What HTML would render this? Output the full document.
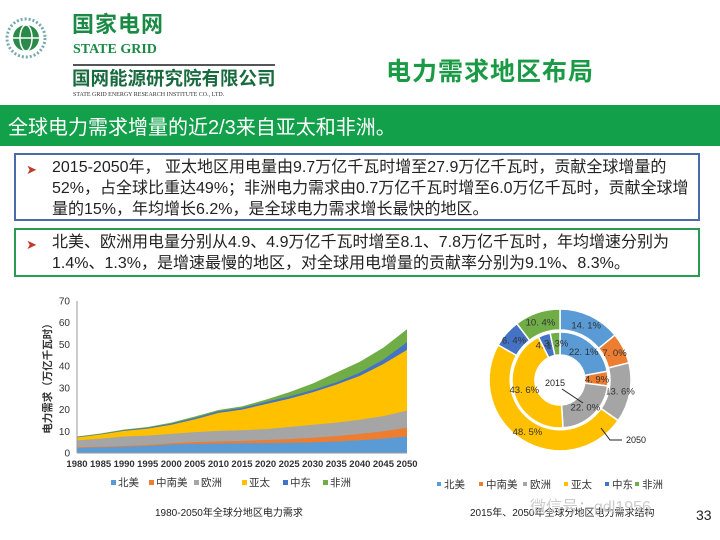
<!DOCTYPE html>
<html><head><meta charset="utf-8"><style>
body{margin:0;width:720px;height:540px;background:#fff;position:relative;overflow:hidden;font-family:"Liberation Sans","Noto Sans CJK SC",sans-serif;}
.a{position:absolute;white-space:nowrap}
.box{position:absolute;left:14px;width:686px;background:#fff;font-size:16px;line-height:21px;color:#222;box-sizing:border-box;padding:2px 4px 2px 36px;white-space:nowrap;overflow:hidden}
.box .arr{position:absolute;left:10px;top:4px;color:#c0392b;font-size:13px}
</style></head><body>
<!-- logo -->
<svg class="a" style="left:4px;top:14px" width="50" height="50"><circle cx="22" cy="24" r="19" fill="none" stroke="#7aa" stroke-width="3" stroke-dasharray="2 2"/><circle cx="22" cy="24" r="13" fill="#2a8a4a"/><ellipse cx="22" cy="24" rx="6" ry="13" fill="none" stroke="#fff" stroke-width="1.5"/><line x1="9" y1="24" x2="35" y2="24" stroke="#fff" stroke-width="1.5"/></svg>
<div class="a" style="left:72px;top:12px;font-size:22px;line-height:26px;font-weight:bold;color:#1a8a45;letter-spacing:1px">国家电网</div>
<div class="a" style="left:73px;top:42px;font-size:14px;line-height:16px;font-weight:bold;color:#1a8a45;font-family:'Liberation Serif',serif">STATE GRID</div>
<div class="a" style="left:73px;top:64px;width:202px;height:2px;background:#555"></div>
<div class="a" style="left:72px;top:68px;font-size:18.5px;line-height:22px;font-weight:bold;color:#1a6a40">国网能源研究院有限公司</div>
<div class="a" style="left:73px;top:92px;font-size:6px;color:#333;font-family:'Liberation Serif',serif">STATE GRID ENERGY RESEARCH INSTITUTE CO., LTD.</div>
<div class="a" style="left:386px;top:52px;font-size:25px;font-weight:bold;color:#1a9a45;letter-spacing:1px">电力需求地区布局</div>
<div class="a" style="left:0;top:105px;width:720px;height:41px;background:#12a04a"></div>
<div class="a" style="left:8px;top:111px;font-size:20px;color:#fff">全球电力需求增量的近2/3来自亚太和非洲。</div>
<div class="box" style="top:153px;height:68px;border:2px solid #4a6aa8"><span class="arr">➤</span>2015-2050年， 亚太地区用电量由9.7万亿千瓦时增至27.9万亿千瓦时，贡献全球增量的<br>52%，占全球比重达49%；非洲电力需求由0.7万亿千瓦时增至6.0万亿千瓦时，贡献全球增<br>量的15%，年均增长6.2%，是全球电力需求增长最快的地区。</div>
<div class="box" style="top:228px;height:49px;border:2px solid #2a9a50"><span class="arr">➤</span>北美、欧洲用电量分别从4.9、4.9万亿千瓦时增至8.1、7.8万亿千瓦时，年均增速分别为<br>1.4%、1.3%，是增速最慢的地区，对全球用电增量的贡献率分别为9.1%、8.3%。</div>
<svg id="c" class="a" style="left:0;top:0" width="720" height="540" font-family="Liberation Sans, Noto Sans CJK SC, sans-serif"></svg>
<div class="a" style="left:155px;top:504px;font-size:10px;color:#222">1980-2050年全球分地区电力需求</div>
<div class="a" style="left:470px;top:504px;font-size:10px;color:#222">2015年、2050年全球分地区电力需求结构</div>
<div class="a" style="left:530px;top:493px;font-size:16px;color:#ccc">微信号：gdl1956</div>
<div class="a" style="left:696px;top:507px;font-size:14px;color:#222">33</div>
<script>
var s=document.getElementById('c'),h='';
var C=['#5b9bd5','#ed7d31','#a5a5a5','#ffc000','#4472c4','#70ad47'];
var T=[[2.3,2.6,2.9,3.2,3.9,4.2,4.4,4.5,4.6,4.7,4.9,5.3,5.9,6.6,7.6],
[2.6,2.9,3.2,3.7,4.5,5.0,5.3,5.6,6.0,6.4,7.0,7.8,8.8,10.0,11.7],
[5.8,6.6,7.6,8.0,8.8,9.6,10.2,10.5,11.0,12.0,13.0,14.0,15.3,17.0,19.5],
[7.2,8.5,10.2,11.2,13.0,15.5,18.5,20.0,22.5,25.0,28.0,31.5,35.5,41,47.5],
[7.4,8.7,10.5,11.6,13.5,16.2,19.2,20.8,23.5,26.0,29.0,32.5,37,43,51],
[7.6,9.0,10.8,12.0,14.0,16.8,19.8,21.5,24.5,28,32,37,42,48.5,57]];
function X(i){return 77+i*330/14}function Y(v){return 453-v*152/70}
for(var k=5;k>=0;k--){var d='M'+X(0)+','+Y(0);for(var i=0;i<15;i++)d+='L'+X(i)+','+Y(T[k][i]);d+='L'+X(14)+','+Y(0)+'Z';h+='<path d="'+d+'" fill="'+C[k]+'"/>';}
h+='<line x1="77" y1="301" x2="77" y2="453" stroke="#999"/><line x1="77" y1="453" x2="407" y2="453" stroke="#999"/>';
h+='<text transform="translate(51,376) rotate(-90)" font-size="10.5" font-weight="bold" text-anchor="middle" fill="#333">电力需求（万亿千瓦时）</text>';
for(var v=0;v<=70;v+=10)h+='<text x="70" y="'+(Y(v)+3.5)+'" font-size="10" text-anchor="end" fill="#333">'+v+'</text>';
for(var i=0;i<15;i++)h+='<text x="'+X(i)+'" y="467" font-size="9.5" font-weight="bold" text-anchor="middle" fill="#333">'+(1980+5*i)+'</text>';
var L=['北美','中南美','欧洲','亚太','中东','非洲'],lx=[118,156,201,249,290,330];
for(var k=0;k<6;k++)h+='<rect x="'+(lx[k]-7)+'" y="480" width="5" height="5" fill="'+C[k]+'"/><text x="'+lx[k]+'" y="486" font-size="10.5" fill="#333">'+L[k]+'</text>';
var lx2=[444,486,530,571,612,642];
for(var k=0;k<6;k++)h+='<rect x="'+(lx2[k]-7)+'" y="482" width="4" height="4" fill="'+C[k]+'"/><text x="'+lx2[k]+'" y="488" font-size="10.5" fill="#333">'+L[k]+'</text>';
var cx=560,cy=380;
function ring(p,r0,r1,rl){var a=0;for(var k=0;k<6;k++){var a0=a,a1=a+p[k]/100*2*Math.PI;a=a1;
function pt(r,t){return (cx+r*Math.sin(t)).toFixed(1)+','+(cy-r*Math.cos(t)).toFixed(1)}
var lg=(a1-a0)>Math.PI?1:0;
h+='<path d="M'+pt(r1,a0)+'A'+r1+','+r1+' 0 '+lg+' 1 '+pt(r1,a1)+'L'+pt(r0,a1)+'A'+r0+','+r0+' 0 '+lg+' 0 '+pt(r0,a0)+'Z" fill="'+C[k]+'" stroke="#fff" stroke-width="1.5"/>';
var m=(a0+a1)/2;h+='<text x="'+(cx+rl*Math.sin(m))+'" y="'+(cy-rl*Math.cos(m)+3.5)+'" font-size="9.5" text-anchor="middle" fill="#333">'+p[k].toFixed(1).replace('.','. ')+'%</text>';}}
ring([14.1,7.0,13.6,48.5,6.4,10.4],50,71,61);
ring([22.1,4.9,22.0,43.6,4.1,3.3],25,48,37);
h+='<text x="555" y="386" font-size="9" fill="#222" text-anchor="middle">2015</text><line x1="562" y1="389" x2="583" y2="403" stroke="#222"/>';
h+='<polyline points="601,428 610,440 622,440" fill="none" stroke="#222"/><text x="626" y="443" font-size="9" fill="#222">2050</text>';
s.innerHTML=h;
</script>
</body></html>
